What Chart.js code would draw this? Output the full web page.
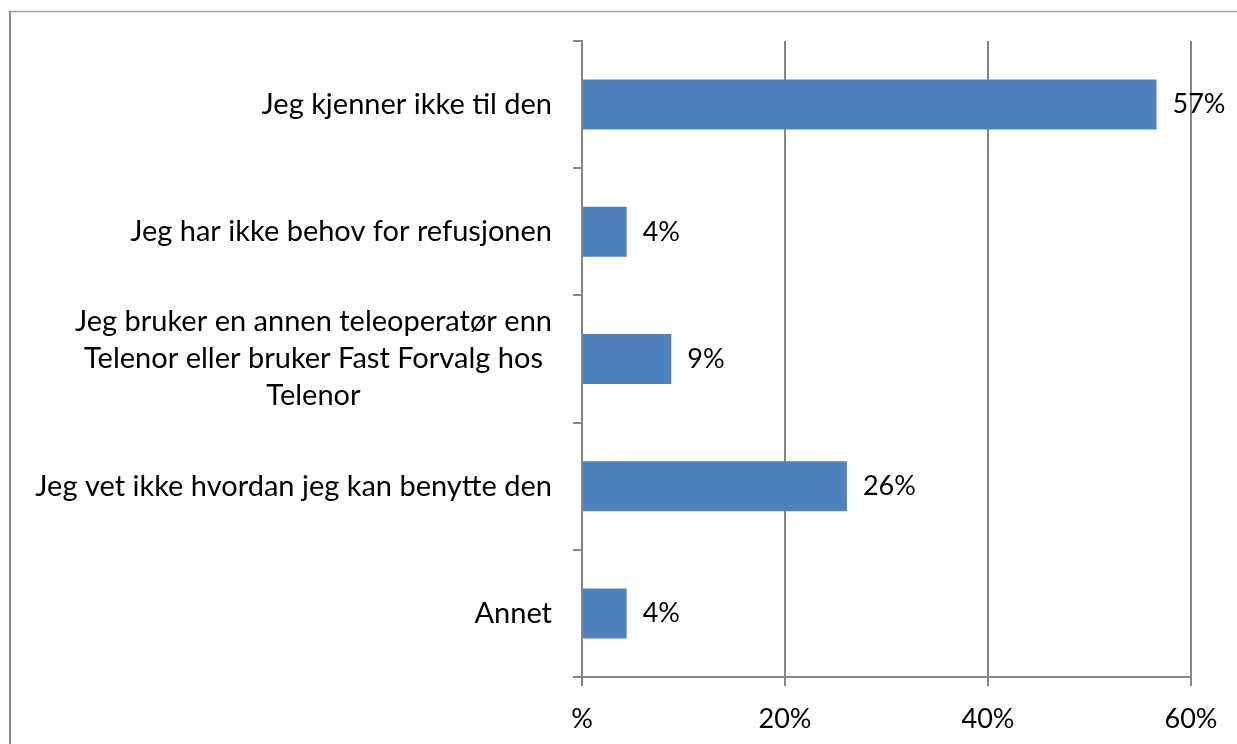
<!DOCTYPE html>
<html>
<head>
    <meta charset="UTF-8">
    <title>Refusjon</title>
    <script src="https://cdn.jsdelivr.net/npm/chart.js"></script>
    <style>
        body { margin: 0; background: #fff; }
        canvas { display: block; }
    </style>
</head>
<body>
    <canvas id="myChart" width="1237" height="744"></canvas>

    <script>
        // kategorier og verdier (lest av bildet)
        var categories = [
            'Jeg kjenner ikke til den',
            'Jeg har ikke behov for refusjonen',
            ['Jeg bruker en annen teleoperatør enn', 'Telenor eller bruker Fast Forvalg hos', 'Telenor'],
            'Jeg vet ikke hvordan jeg kan benytte den',
            'Annet'
        ];
        var values = [56.6, 4.4, 8.8, 26.1, 4.4];
        var xTicks = [0, 20, 40, 60];

        var FONT = 'Lato, "Open Sans", sans-serif';
        var LABEL_SIZE = 29;
        var NUM_SIZE = 27;
        var GRID = '#868686';

        // ramme rundt diagrammet
        var framePlugin = {
            id: 'frame',
            beforeDraw: function (chart) {
                var c = chart.ctx;
                c.save();
                c.fillStyle = '#fff';
                c.fillRect(0, 0, chart.width, chart.height);
                c.strokeStyle = '#8c8c8c';
                c.lineWidth = 2;
                c.beginPath();
                c.moveTo(10, 11);
                c.lineTo(10, chart.height);
                c.stroke();
                c.strokeStyle = '#a0a0a0';
                c.lineWidth = 1.5;
                c.beginPath();
                c.moveTo(10, 11.5);
                c.lineTo(chart.width, 11.5);
                c.stroke();
                c.restore();
            }
        };

        // kategoritekster, linjer sentrert innenfor blokken
        var yLabelPlugin = {
            id: 'yLabels',
            afterDraw: function (chart) {
                var c = chart.ctx;
                var y = chart.scales.y;
                var right = y.right - 30;
                var lineH = 37;
                c.save();
                c.font = LABEL_SIZE + 'px ' + FONT;
                c.fillStyle = '#000';
                c.textBaseline = 'middle';
                categories.forEach(function (lab, i) {
                    var lines = Array.isArray(lab) ? lab : [lab];
                    var maxW = 0;
                    lines.forEach(function (l) { maxW = Math.max(maxW, c.measureText(l).width); });
                    var cx = right - maxW / 2;
                    var cy = y.getPixelForValue(i) - (lines.length - 1) * lineH / 2;
                    c.textAlign = 'center';
                    lines.forEach(function (l, k) {
                        c.fillText(l, cx, cy + k * lineH);
                    });
                });
                c.restore();
            }
        };

        // verdietiketter etter stolpene
        var valueLabelPlugin = {
            id: 'valueLabels',
            afterDatasetsDraw: function (chart) {
                var c = chart.ctx;
                var meta = chart.getDatasetMeta(0);
                c.save();
                c.font = NUM_SIZE + 'px ' + FONT;
                c.fillStyle = '#000';
                c.textAlign = 'left';
                c.textBaseline = 'middle';
                meta.data.forEach(function (bar, i) {
                    c.fillText(Math.round(values[i]) + '%', bar.x + 16, bar.y);
                });
                c.restore();
            }
        };

        var ctx = document.getElementById('myChart').getContext('2d');
        var myChart = new Chart(ctx, {
            type: 'bar',
            data: {
                labels: categories,
                datasets: [{
                    data: values,
                    backgroundColor: '#4f81bd',
                    barPercentage: 0.393,
                    categoryPercentage: 1
                }]
            },
            options: {
                indexAxis: 'y',
                responsive: false,
                devicePixelRatio: 1,
                animation: false,
                layout: { padding: { left: 0, right: 46, top: 41, bottom: 0 } },
                plugins: {
                    legend: { display: false },
                    tooltip: { enabled: false }
                },
                scales: {
                    x: {
                        min: 0,
                        max: 60,
                        afterBuildTicks: function (scale) {
                            scale.ticks = xTicks.map(function (v) { return { value: v }; });
                        },
                        ticks: {
                            color: '#000',
                            font: { family: FONT, size: NUM_SIZE },
                            padding: 17,
                            maxRotation: 0,
                            callback: function (v) { return v === 0 ? '%' : v + '%'; }
                        },
                        grid: { color: GRID, lineWidth: 2, tickLength: 9 },
                        border: { color: GRID, width: 2 },
                        afterFit: function (scale) { scale.height = 67; }
                    },
                    y: {
                        ticks: { display: false },
                        grid: { color: GRID, lineWidth: 2, tickLength: 9, drawOnChartArea: false, offset: true },
                        border: { color: GRID, width: 2 },
                        afterFit: function (scale) { scale.width = 582; }
                    }
                }
            },
            plugins: [framePlugin, yLabelPlugin, valueLabelPlugin]
        });
    </script>
</body>
</html>
